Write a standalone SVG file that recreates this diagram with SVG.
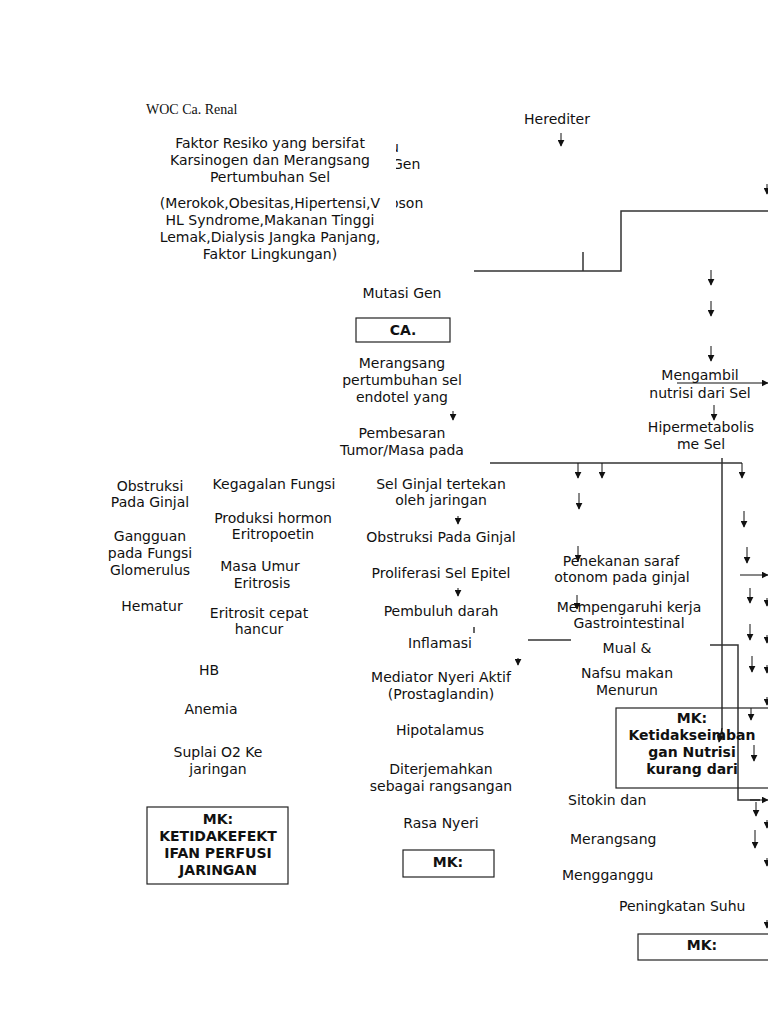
<svg xmlns="http://www.w3.org/2000/svg" width="768" height="1024" viewBox="0 0 768 1024">
<style>
text{font-family:"DejaVu Sans","Liberation Sans",sans-serif;font-size:14px;fill:#111;text-anchor:middle}
.l{text-anchor:start}
.b{font-weight:bold}
.t{font-family:"Liberation Serif","DejaVu Serif",serif;font-size:14px;text-anchor:start}
.box{fill:#fff;stroke:#222;stroke-width:1.2}
.ln{fill:none;stroke:#333;stroke-width:1.5}
.ar{fill:none;stroke:#111;stroke-width:1;marker-end:url(#ah)}
</style>
<defs>
<marker id="ah" viewBox="0 0 10 10" refX="9" refY="5" markerWidth="7" markerHeight="7" markerUnits="userSpaceOnUse" orient="auto"><path d="M0,0L10,5L0,10z" fill="#111"/></marker>
</defs>
<rect width="768" height="1024" fill="#fff"/>
<g id="connectors">
<polyline class="ln" points="474,271 621,271 621,211 768,211"/>
<line class="ln" x1="583" y1="252" x2="583" y2="271"/>
<line class="ln" x1="490" y1="463" x2="742" y2="463"/>
<line class="ln" x1="528" y1="640" x2="571" y2="640"/>
<line class="ar" x1="561" y1="133" x2="561" y2="146"/>
<line class="ar" x1="767" y1="184" x2="767" y2="194"/>
<line class="ar" x1="711" y1="270" x2="711" y2="285"/>
<line class="ar" x1="711" y1="301" x2="711" y2="316" stroke="#888"/>
<line class="ar" x1="711" y1="346" x2="711" y2="361"/>
<line class="ar" x1="677" y1="383" x2="768" y2="383"/>
<line class="ar" x1="714" y1="405" x2="714" y2="420" stroke="#888"/>
<line class="ar" x1="453" y1="411" x2="453" y2="420"/>
<line class="ar" x1="742" y1="463" x2="742" y2="478"/>
<line class="ar" x1="578" y1="463" x2="578" y2="478"/>
<line class="ar" x1="602" y1="463" x2="602" y2="478"/>
<line class="ar" x1="579" y1="493" x2="579" y2="509"/>
<line class="ar" x1="578" y1="546" x2="578" y2="561"/>
<line class="ar" x1="577" y1="595" x2="577" y2="609"/>
<polyline class="ln" points="722,458 722,740"/>
<line class="ar" x1="722" y1="728" x2="719" y2="742"/>
<polyline class="ln" points="710,645 738,645 738,800 760,800"/>
<line class="ar" x1="750" y1="800" x2="768" y2="800"/>
<line class="ar" x1="744" y1="511" x2="744" y2="527"/>
<line class="ar" x1="747" y1="547" x2="747" y2="563"/>
<line class="ar" x1="740" y1="575" x2="768" y2="575"/>
<line class="ar" x1="750" y1="588" x2="750" y2="603"/>
<line class="ar" x1="767" y1="598" x2="767" y2="606"/>
<line class="ar" x1="750" y1="624" x2="750" y2="640"/>
<line class="ar" x1="767" y1="635" x2="767" y2="643"/>
<line class="ar" x1="752" y1="656" x2="752" y2="672"/>
<line class="ar" x1="767" y1="665" x2="767" y2="673"/>
<line class="ar" x1="767" y1="697" x2="767" y2="705"/>
<line class="ar" x1="751" y1="708" x2="751" y2="720"/>
<line class="ar" x1="754" y1="745" x2="754" y2="761"/>
<line class="ar" x1="756" y1="802" x2="756" y2="816"/>
<line class="ar" x1="767" y1="820" x2="767" y2="828"/>
<line class="ar" x1="755" y1="830" x2="755" y2="848"/>
<line class="ar" x1="767" y1="858" x2="767" y2="866"/>
<line class="ar" x1="767" y1="920" x2="767" y2="928"/>
<line class="ar" x1="458" y1="516" x2="458" y2="524"/>
<line class="ar" x1="458" y1="588" x2="458" y2="596"/>
<line class="ln" x1="474" y1="627" x2="474" y2="633" stroke-width="1"/>
<line class="ar" x1="518" y1="658" x2="518" y2="665"/>
</g>
<g id="hidden-fragments">
<text class="l" x="392" y="169">Gen</text>
<text class="l" x="390" y="208">oson</text>
<text class="l" x="390" y="152">u</text>
<rect x="150" y="135" width="246" height="130" fill="#fff"/>
</g>
<g id="title"><text class="t" x="146" y="114">WOC Ca. Renal</text></g>
<g id="faktor">
<text x="270" y="148">Faktor Resiko yang bersifat</text>
<text x="270" y="165">Karsinogen dan Merangsang</text>
<text x="270" y="182">Pertumbuhan Sel</text>
<text x="270" y="208">(Merokok,Obesitas,Hipertensi,V</text>
<text x="270" y="225">HL Syndrome,Makanan Tinggi</text>
<text x="270" y="242">Lemak,Dialysis Jangka Panjang,</text>
<text x="270" y="259">Faktor Lingkungan)</text>
</g>
<g id="herediter"><text x="557" y="124">Herediter</text></g>
<g id="mutasi"><text x="402" y="298">Mutasi Gen</text></g>
<g id="ca"><rect class="box" x="356" y="318" width="94" height="24"/><text class="b" x="403" y="335">CA.</text></g>
<g id="merangsang-endotel">
<text x="402" y="368">Merangsang</text>
<text x="402" y="385">pertumbuhan sel</text>
<text x="402" y="402">endotel yang</text>
</g>
<g id="pembesaran">
<text x="402" y="438">Pembesaran</text>
<text x="402" y="455">Tumor/Masa pada</text>
</g>
<g id="mengambil">
<text x="700" y="380">Mengambil</text>
<text x="700" y="398">nutrisi dari Sel</text>
</g>
<g id="hipermetabolisme">
<text x="701" y="432">Hipermetabolis</text>
<text x="701" y="449">me Sel</text>
</g>
<g id="sel-ginjal">
<text x="441" y="489">Sel Ginjal tertekan</text>
<text x="441" y="505">oleh jaringan</text>
</g>
<g id="obstruksi-mid"><text x="441" y="542">Obstruksi Pada Ginjal</text></g>
<g id="proliferasi"><text x="441" y="578">Proliferasi Sel Epitel</text></g>
<g id="pembuluh"><text x="441" y="616">Pembuluh darah</text></g>
<g id="inflamasi"><text x="440" y="648">Inflamasi</text></g>
<g id="mediator">
<text x="441" y="682">Mediator Nyeri Aktif</text>
<text x="441" y="699">(Prostaglandin)</text>
</g>
<g id="hipotalamus"><text x="440" y="735">Hipotalamus</text></g>
<g id="diterjemahkan">
<text x="441" y="774">Diterjemahkan</text>
<text x="441" y="791">sebagai rangsangan</text>
</g>
<g id="rasa-nyeri"><text x="441" y="828">Rasa Nyeri</text></g>
<g id="mk-nyeri"><rect class="box" x="403" y="850" width="91" height="27"/><text class="b" x="448" y="867">MK:</text></g>
<g id="obstruksi-left">
<text x="150" y="491">Obstruksi</text>
<text x="150" y="507">Pada Ginjal</text>
</g>
<g id="gangguan">
<text x="150" y="541">Gangguan</text>
<text x="150" y="558">pada Fungsi</text>
<text x="150" y="575">Glomerulus</text>
</g>
<g id="hematur"><text x="152" y="611">Hematur</text></g>
<g id="kegagalan"><text x="274" y="489">Kegagalan Fungsi</text></g>
<g id="produksi">
<text x="273" y="523">Produksi hormon</text>
<text x="273" y="539">Eritropoetin</text>
</g>
<g id="masa-umur">
<text x="260" y="571">Masa Umur</text>
<text x="262" y="588">Eritrosis</text>
</g>
<g id="eritrosit">
<text x="259" y="618">Eritrosit cepat</text>
<text x="259" y="634">hancur</text>
</g>
<g id="hb"><text x="209" y="675">HB</text></g>
<g id="anemia"><text x="211" y="714">Anemia</text></g>
<g id="suplai">
<text x="218" y="757">Suplai O2 Ke</text>
<text x="218" y="774">jaringan</text>
</g>
<g id="mk-perfusi">
<rect class="box" x="147" y="807" width="141" height="77"/>
<text class="b" x="218" y="824">MK:</text>
<text class="b" x="218" y="841">KETIDAKEFEKT</text>
<text class="b" x="218" y="858">IFAN PERFUSI</text>
<text class="b" x="218" y="875">JARINGAN</text>
</g>
<g id="penekanan">
<text x="621" y="566">Penekanan saraf</text>
<text x="622" y="582">otonom pada ginjal</text>
</g>
<g id="mempengaruhi">
<text x="629" y="612">Mempengaruhi kerja</text>
<text x="629" y="628">Gastrointestinal</text>
</g>
<g id="mual"><text x="627" y="653">Mual &amp;</text></g>
<g id="nafsu">
<text x="627" y="678">Nafsu makan</text>
<text x="627" y="695">Menurun</text>
</g>
<g id="mk-nutrisi">
<rect x="616" y="708" width="160" height="80" fill="none" stroke="#222" stroke-width="1.2"/>
<text class="b" x="692" y="723">MK:</text>
<text class="b" x="692" y="740">Ketidakseimban</text>
<text class="b" x="692" y="757">gan Nutrisi</text>
<text class="b" x="692" y="774">kurang dari</text>
</g>
<g id="sitokin"><text class="l" x="568" y="805">Sitokin dan</text></g>
<g id="merangsang2"><text class="l" x="570" y="844">Merangsang</text></g>
<g id="mengganggu"><text class="l" x="562" y="880">Mengganggu</text></g>
<g id="suhu"><text class="l" x="619" y="911">Peningkatan Suhu</text></g>
<g id="mk-suhu"><rect class="box" x="638" y="934" width="140" height="26"/><text class="b" x="702" y="950">MK:</text></g>
</svg>
